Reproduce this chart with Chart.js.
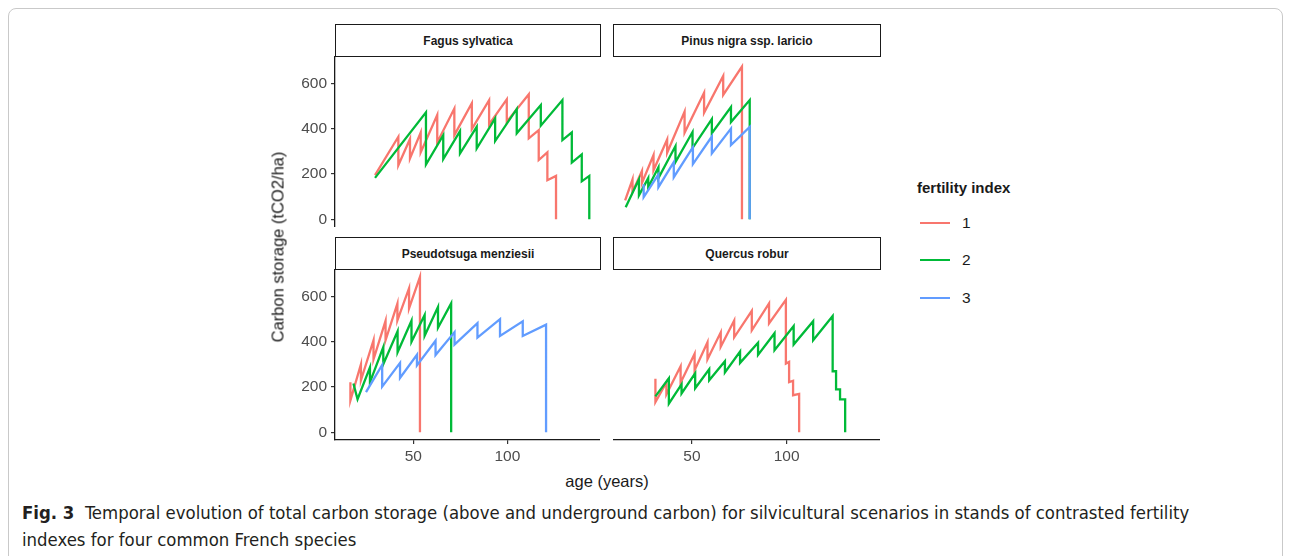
<!DOCTYPE html>
<html>
<head>
<meta charset="utf-8">
<script src="https://cdn.jsdelivr.net/npm/chart.js@4.4.1/dist/chart.umd.min.js"></script>
<style>
  body { margin: 0; background: #fff; width: 1290px; height: 556px; overflow: hidden; position: relative; font-family: "Liberation Sans", Arial, sans-serif; }
  .frame { position: absolute; left: 8px; top: 8px; width: 1275px; height: 620px; border: 1px solid #c9c9c9; border-radius: 8px; box-sizing: border-box; }
  .panel { position: absolute; }
  .strip { position: absolute; border: 1.5px solid #1a1a1a; box-sizing: border-box; font-weight: bold; font-size: 12px; color: #1a1a1a; display: flex; align-items: center; justify-content: center; background: #fff; }
  .ytitle { position: absolute; left: 278px; top: 247px; transform: translate(-50%, -50%) rotate(-90deg); font-size: 16.5px; color: #1a1a1a; white-space: nowrap; }
  .xtitle { position: absolute; left: 607px; top: 481px; transform: translate(-50%, -50%); font-size: 16.5px; color: #1a1a1a; white-space: nowrap; }
  .legend-title { position: absolute; left: 917px; top: 179px; font-size: 15px; font-weight: bold; color: #1a1a1a; }
  .key { position: absolute; left: 920px; width: 30px; height: 2.4px; }
  .key-label { position: absolute; left: 962px; font-size: 15.5px; color: #1a1a1a; }
  .caption { position: absolute; left: 22px; top: 499px; width: 1195px; font-family: "Liberation Sans Narrow", "DejaVu Sans Condensed", "Open Sans", sans-serif; font-size: 18.4px; line-height: 27px; color: #231f20; }
</style>
</head>
<body>
<div class="frame"></div>

<div class="strip" style="left:335px;top:24px;width:266px;height:33px;">Fagus sylvatica</div>
<div class="strip" style="left:613px;top:24px;width:268px;height:33px;">Pinus nigra ssp. laricio</div>
<div class="strip" style="left:335px;top:237px;width:266px;height:33px;">Pseudotsuga menziesii</div>
<div class="strip" style="left:613px;top:237px;width:268px;height:33px;">Quercus robur</div>

<div class="panel" style="left:275px;top:56px;width:325px;height:171px;"><canvas id="fagus"></canvas></div>
<div class="panel" style="left:613px;top:56px;width:267px;height:171px;"><canvas id="pinus"></canvas></div>
<div class="panel" style="left:275px;top:269px;width:325px;height:202px;"><canvas id="pseudo"></canvas></div>
<div class="panel" style="left:613px;top:269px;width:267px;height:202px;"><canvas id="quercus"></canvas></div>

<div class="ytitle">Carbon storage (tCO2/ha)</div>
<div class="xtitle">age (years)</div>

<div class="legend-title">fertility index</div>
<div class="key" style="top:222px;background:#F8766D;"></div>
<div class="key" style="top:259px;background:#00BA38;"></div>
<div class="key" style="top:297px;background:#619CFF;"></div>
<div class="key-label" style="top:214px;">1</div>
<div class="key-label" style="top:251px;">2</div>
<div class="key-label" style="top:289px;">3</div>

<div class="caption"><b>Fig. 3</b>&nbsp; Temporal evolution of total carbon storage (above and underground carbon) for silvicultural scenarios in stands of contrasted fertility indexes for four common French species</div>

<script>
// axis ticks
const xTicks = [50, 100];
const yTicks = [0, 200, 400, 600];
const fertilityColors = ["#F8766D", "#00BA38", "#619CFF"];

// Fagus sylvatica
const fagusAge1 = [29.6, 42.0, 42.0, 48.2, 48.2, 53.9, 53.9, 62.7, 62.7, 71.8, 71.8, 81.1, 81.1, 90.3, 90.3, 99.7, 99.7, 111.4, 111.4, 116.7, 116.7, 121.3, 121.3, 125.9, 125.9];
const fagusCarbon1 = [195, 365, 239, 355, 269, 384, 296, 461, 340, 490, 372, 513, 399, 527, 420, 530, 431, 553, 358, 394, 262, 296, 173, 192, 0];
const fagusAge2 = [29.6, 56.7, 56.7, 65.9, 65.9, 74.8, 74.8, 83.7, 83.7, 93.5, 93.5, 105.0, 105.0, 117.8, 117.8, 129.3, 129.3, 134.3, 134.3, 139.6, 139.6, 143.6, 143.6];
const fagusCarbon2 = [183, 473, 242, 372, 266, 390, 291, 409, 313, 446, 346, 488, 380, 505, 414, 527, 350, 384, 251, 287, 168, 192, 0];

// Pinus nigra ssp. laricio
const pinusAge1 = [14.7, 18.6, 18.6, 23.6, 23.6, 29.7, 29.7, 36.9, 36.9, 46.1, 46.1, 56.4, 56.4, 66.5, 66.5, 76.4, 76.4];
const pinusCarbon1 = [84, 176, 121, 214, 161, 284, 217, 353, 294, 476, 383, 560, 471, 634, 550, 675, 0];
const pinusAge2 = [15.0, 22.0, 22.0, 26.9, 26.9, 32.3, 32.3, 41.3, 41.3, 50.3, 50.3, 60.5, 60.5, 70.6, 70.6, 80.5, 80.5];
const pinusCarbon2 = [53, 177, 106, 182, 142, 230, 182, 324, 253, 386, 315, 443, 381, 496, 430, 527, 0];
const pinusAge3 = [24.5, 24.5, 32.3, 32.3, 40.4, 40.4, 50.5, 50.5, 60.5, 60.5, 70.6, 70.6, 80.5, 80.5];
const pinusCarbon3 = [155, 98, 199, 142, 253, 186, 319, 244, 366, 291, 401, 328, 408, 0];

// Pseudotsuga menziesii
const pseudoAge1 = [16.5, 16.5, 22.1, 22.1, 28.8, 28.8, 35.2, 35.2, 41.5, 41.5, 47.7, 47.7, 53.5, 53.5];
const pseudoCarbon1 = [221, 141, 301, 230, 407, 323, 493, 407, 569, 495, 637, 548, 687, 0];
const pseudoAge2 = [18.1, 20.3, 26.9, 26.9, 34.0, 34.0, 41.6, 41.6, 49.0, 49.0, 56.0, 56.0, 63.1, 63.1, 70.1, 70.1];
const pseudoCarbon2 = [216, 146, 287, 221, 377, 301, 447, 354, 493, 400, 519, 427, 554, 462, 570, 0];
const pseudoAge3 = [24.8, 33.4, 33.4, 42.9, 42.9, 51.9, 51.9, 61.8, 61.8, 71.9, 71.9, 84.1, 84.1, 96.1, 96.1, 108.2, 108.2, 120.6, 120.6];
const pseudoCarbon3 = [178, 298, 202, 307, 240, 343, 296, 405, 342, 443, 388, 483, 419, 500, 426, 491, 426, 476, 0];

// Quercus robur
const quercusAge1 = [30.7, 30.7, 36.5, 36.5, 44.0, 44.0, 51.4, 51.4, 58.2, 58.2, 65.2, 65.2, 72.3, 72.3, 81.6, 81.6, 90.7, 90.7, 99.6, 99.6, 101.3, 101.3, 103.4, 103.4, 106.6, 106.6];
const quercusCarbon1 = [237, 134, 221, 168, 292, 219, 347, 274, 398, 323, 442, 378, 494, 420, 537, 451, 570, 481, 586, 304, 311, 222, 228, 164, 170, 0];
const quercusAge2 = [30.7, 37.8, 37.8, 44.5, 44.5, 51.7, 51.7, 59.1, 59.1, 67.4, 67.4, 75.4, 75.4, 84.9, 84.9, 93.6, 93.6, 103.7, 103.7, 114.0, 114.0, 124.3, 124.3, 126.1, 126.1, 128.2, 128.2, 130.9, 130.9];
const quercusCarbon2 = [159, 239, 127, 212, 172, 261, 195, 279, 230, 314, 265, 357, 307, 396, 342, 438, 363, 470, 388, 491, 407, 514, 270, 270, 190, 190, 146, 146, 0];

function toPoints(ages, values) {
    return ages.map((a, i) => ({ x: a, y: values[i] }));
}

function makeSeries(index, ages, values) {
    return {
        label: String(index + 1),
        data: toPoints(ages, values),
        borderColor: fertilityColors[index],
        backgroundColor: fertilityColors[index],
        borderWidth: 2.3,
        pointRadius: 0,
        showLine: true,
        tension: 0,
        order: 3 - index
    };
}

function panelChart(id, datasets, showX, showY) {
    const tickFont = { family: "Liberation Sans, Arial, sans-serif", size: 15.5 };
    new Chart(document.getElementById(id), {
        type: "scatter",
        data: { datasets: datasets },
        options: {
            responsive: true,
            maintainAspectRatio: false,
            animation: false,
            layout: { padding: 0 },
            plugins: { legend: { display: false }, tooltip: { enabled: false } },
            scales: {
                x: {
                    type: "linear",
                    min: 8.3,
                    max: 149.3,
                    display: showX,
                    afterBuildTicks: (axis) => { axis.ticks = xTicks.map(v => ({ value: v })); },
                    afterFit: (scale) => {
                        // fixed axis band so panels line up
                        scale.height = showX ? 31 : 0;
                        scale.paddingLeft = 0;
                        scale.paddingRight = 0;
                    },
                    border: { display: true, color: "#1a1a1a", width: 1.3 },
                    grid: { drawOnChartArea: false, drawTicks: true, tickLength: 4, color: "#333", lineWidth: 1.2 },
                    ticks: { color: "#4D4D4D", font: tickFont, padding: 3, maxRotation: 0 }
                },
                y: {
                    type: "linear",
                    min: -34,
                    max: 722,
                    display: showY,
                    afterBuildTicks: (axis) => { axis.ticks = yTicks.map(v => ({ value: v })); },
                    afterFit: (scale) => {
                        scale.width = showY ? 60 : 0;
                        scale.paddingTop = 0;
                        scale.paddingBottom = 0;
                    },
                    border: { display: true, color: "#1a1a1a", width: 1.3 },
                    grid: { drawOnChartArea: false, drawTicks: true, tickLength: 4, color: "#333", lineWidth: 1.2 },
                    ticks: { color: "#4D4D4D", font: tickFont, padding: 4 }
                }
            }
        }
    });
}

panelChart("fagus", [
    makeSeries(0, fagusAge1, fagusCarbon1),
    makeSeries(1, fagusAge2, fagusCarbon2)
], false, true);

panelChart("pinus", [
    makeSeries(0, pinusAge1, pinusCarbon1),
    makeSeries(1, pinusAge2, pinusCarbon2),
    makeSeries(2, pinusAge3, pinusCarbon3)
], false, false);

panelChart("pseudo", [
    makeSeries(0, pseudoAge1, pseudoCarbon1),
    makeSeries(1, pseudoAge2, pseudoCarbon2),
    makeSeries(2, pseudoAge3, pseudoCarbon3)
], true, true);

panelChart("quercus", [
    makeSeries(0, quercusAge1, quercusCarbon1),
    makeSeries(1, quercusAge2, quercusCarbon2)
], true, false);
</script>
</body>
</html>
